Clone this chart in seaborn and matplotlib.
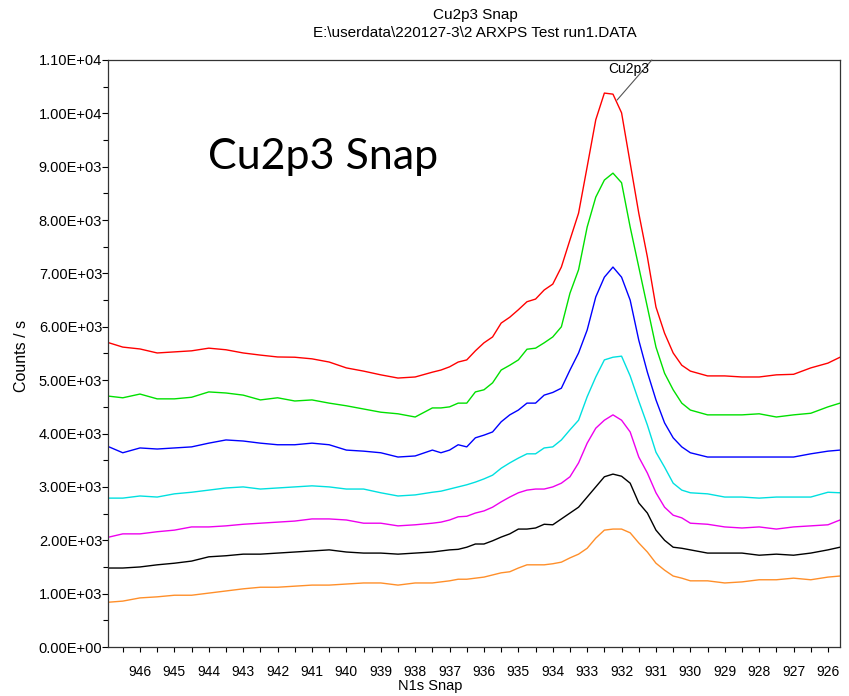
import numpy as np
import pandas as pd
import seaborn as sns
import matplotlib.pyplot as plt
from matplotlib.ticker import MultipleLocator, FuncFormatter

# Binding energy grid (eV)
energy = [946.9, 946.5, 946.0, 945.5, 945.0, 944.5, 944.0, 943.5, 943.0, 942.5,
          942.0, 941.5, 941.0, 940.5, 940.0, 939.5, 939.0, 938.5, 938.0, 937.5,
          937.25, 937.0, 936.75, 936.5, 936.25, 936.0, 935.75, 935.5, 935.25, 935.0,
          934.75, 934.5, 934.25, 934.0, 933.75, 933.5, 933.25, 933.0, 932.75, 932.5,
          932.25, 932.0, 931.75, 931.5, 931.25, 931.0, 930.75, 930.5, 930.25, 930.0,
          929.5, 929.0, 928.5, 928.0, 927.5, 927.0, 926.5, 926.0, 925.65]

# Counts / s for the seven scans (top to bottom)
red = [5700, 5620, 5585, 5510, 5530, 5550, 5600, 5570, 5510, 5470,
       5435, 5430, 5400, 5340, 5230, 5170, 5100, 5040, 5060, 5150,
       5190, 5250, 5340, 5380, 5550, 5700, 5810, 6070, 6180, 6320,
       6470, 6520, 6690, 6800, 7120, 7630, 8130, 9000, 9880, 10380,
       10360, 10010, 9070, 8130, 7310, 6370, 5880, 5510, 5280, 5170,
       5080, 5080, 5060, 5060, 5100, 5110, 5230, 5320, 5430]
green = [4700, 4670, 4740, 4650, 4650, 4680, 4780, 4760, 4720, 4630,
         4670, 4610, 4630, 4570, 4520, 4460, 4400, 4370, 4310, 4480,
         4480, 4500, 4570, 4570, 4780, 4820, 4950, 5190, 5280, 5380,
         5580, 5600, 5700, 5810, 6000, 6630, 7070, 7870, 8430, 8750,
         8880, 8700, 7870, 7120, 6370, 5620, 5130, 4820, 4570, 4440,
         4350, 4350, 4350, 4370, 4310, 4350, 4380, 4500, 4570]
blue = [3750, 3640, 3730, 3710, 3730, 3750, 3820, 3880, 3860, 3820,
        3790, 3790, 3820, 3790, 3690, 3670, 3640, 3560, 3580, 3690,
        3640, 3690, 3790, 3750, 3920, 3970, 4030, 4220, 4350, 4440,
        4570, 4570, 4720, 4770, 4850, 5190, 5510, 5940, 6560, 6930,
        7120, 6930, 6500, 5750, 5150, 4630, 4200, 3920, 3750, 3640,
        3560, 3560, 3560, 3560, 3560, 3560, 3620, 3670, 3690]
cyan = [2790, 2790, 2830, 2810, 2870, 2900, 2940, 2980, 3000, 2960,
        2980, 3000, 3020, 3000, 2960, 2960, 2890, 2830, 2850, 2900,
        2920, 2960, 3000, 3040, 3090, 3150, 3220, 3350, 3450, 3540,
        3620, 3620, 3730, 3750, 3880, 4070, 4250, 4690, 5060, 5380,
        5430, 5450, 5080, 4610, 4160, 3650, 3370, 3070, 2940, 2890,
        2870, 2810, 2810, 2790, 2810, 2810, 2810, 2900, 2890]
magenta = [2060, 2120, 2120, 2160, 2190, 2250, 2250, 2270, 2300, 2320,
           2340, 2360, 2400, 2400, 2380, 2320, 2320, 2270, 2290, 2320,
           2340, 2380, 2440, 2450, 2510, 2550, 2620, 2720, 2810, 2890,
           2940, 2960, 2960, 3000, 3070, 3190, 3450, 3820, 4100, 4250,
           4350, 4250, 4030, 3560, 3260, 2890, 2620, 2470, 2420, 2320,
           2300, 2250, 2230, 2250, 2210, 2250, 2270, 2290, 2380]
black = [1480, 1480, 1500, 1540, 1570, 1610, 1690, 1710, 1740, 1740,
         1760, 1780, 1800, 1820, 1780, 1760, 1760, 1740, 1760, 1780,
         1800, 1820, 1830, 1870, 1930, 1930, 1990, 2060, 2120, 2210,
         2210, 2230, 2300, 2290, 2400, 2510, 2620, 2810, 3000, 3190,
         3240, 3200, 3070, 2700, 2510, 2190, 2000, 1870, 1850, 1820,
         1760, 1760, 1760, 1720, 1740, 1720, 1760, 1820, 1870]
orange = [840, 860, 920, 940, 970, 970, 1010, 1050, 1090, 1120,
          1120, 1140, 1160, 1160, 1180, 1200, 1200, 1160, 1200, 1200,
          1220, 1240, 1270, 1270, 1290, 1310, 1350, 1390, 1410, 1480,
          1540, 1540, 1540, 1560, 1590, 1670, 1740, 1850, 2040, 2190,
          2210, 2210, 2140, 1950, 1780, 1570, 1440, 1330, 1290, 1240,
          1240, 1200, 1220, 1260, 1260, 1290, 1260, 1310, 1330]

series = {'scan 1': red, 'scan 2': green, 'scan 3': blue, 'scan 4': cyan,
          'scan 5': magenta, 'scan 6': black, 'scan 7': orange}
colors = ['#ff0000', '#00e000', '#0000ff', '#00e0e0', '#ee00ee', '#000000', '#ff8f2a']

peak_label = 'Cu2p3'
peak_xy = (932.13, 10250)
peak_text_xy = (931.78, 10830)
leader_end = (931.12, 11000)

# long form table for seaborn
frames = []
for name, vals in series.items():
    frames.append(pd.DataFrame({'energy': energy, 'counts': vals, 'scan': name}))
df = pd.concat(frames, ignore_index=True)

sns.set_style('ticks')
plt.rcParams['font.family'] = ['Liberation Sans', 'DejaVu Sans']
plt.rcParams['text.color'] = 'black'
plt.rcParams['axes.labelcolor'] = 'black'
plt.rcParams['xtick.color'] = 'black'
plt.rcParams['ytick.color'] = 'black'

fig = plt.figure(figsize=(8.49, 6.96), dpi=100)
ax = fig.add_axes([0.1272, 0.0704, 0.8622, 0.8434])

sns.lineplot(data=df, x='energy', y='counts', hue='scan', palette=colors,
             estimator=None, legend=False, lw=1.0, ax=ax)

ax.set_xlim(946.93, 925.65)
ax.set_ylim(0, 11000)

ax.xaxis.set_major_locator(MultipleLocator(1))
ax.xaxis.set_minor_locator(MultipleLocator(0.5))
ax.yaxis.set_major_locator(MultipleLocator(1000))
ax.yaxis.set_minor_locator(MultipleLocator(500))
ax.yaxis.set_major_formatter(FuncFormatter(lambda v, p: '%.2E' % v))
ax.xaxis.set_major_formatter(FuncFormatter(lambda v, p: '%d' % round(v)))

ax.tick_params(axis='x', which='both', direction='out', length=3.6, width=0.8,
               pad=9, labelsize=10)
ax.tick_params(axis='y', which='major', direction='out', length=4.2, width=0.8,
               pad=0, labelsize=10.5)
ax.tick_params(axis='y', which='minor', direction='out', length=3.6, width=0.8)
for s in ax.spines.values():
    s.set_linewidth(0.9)
    s.set_color('#333333')

ax.set_xlabel('N1s Snap', fontsize=10.5)
ax.xaxis.set_label_coords(0.44, -0.0545)
ax.set_ylabel('Counts / s', fontsize=11.5)
ax.yaxis.set_label_coords(-0.108, 0.496)

# header
fig.text(475 / 849, 1 - 15 / 696, 'Cu2p3 Snap', ha='center', va='center', fontsize=11)
fig.text(475 / 849, 1 - 33 / 696, 'E:\\userdata\\220127-3\\2 ARXPS Test run1.DATA',
         ha='center', va='center', fontsize=11)

# big label inside the plot
ax.text(0.137, 0.835, 'Cu2p3 Snap', transform=ax.transAxes, fontsize=31,
        family=['Lato', 'DejaVu Sans'], ha='left', va='center')

# peak annotation: leader line runs from the peak through the label to the frame
ax.annotate('', xy=peak_xy, xytext=leader_end,
            arrowprops=dict(arrowstyle='-', color='#555555', lw=0.8,
                            shrinkA=0, shrinkB=0))
ax.text(peak_text_xy[0], peak_text_xy[1], peak_label, fontsize=10,
        ha='center', va='center')

fig.savefig('out.png', dpi=100)
